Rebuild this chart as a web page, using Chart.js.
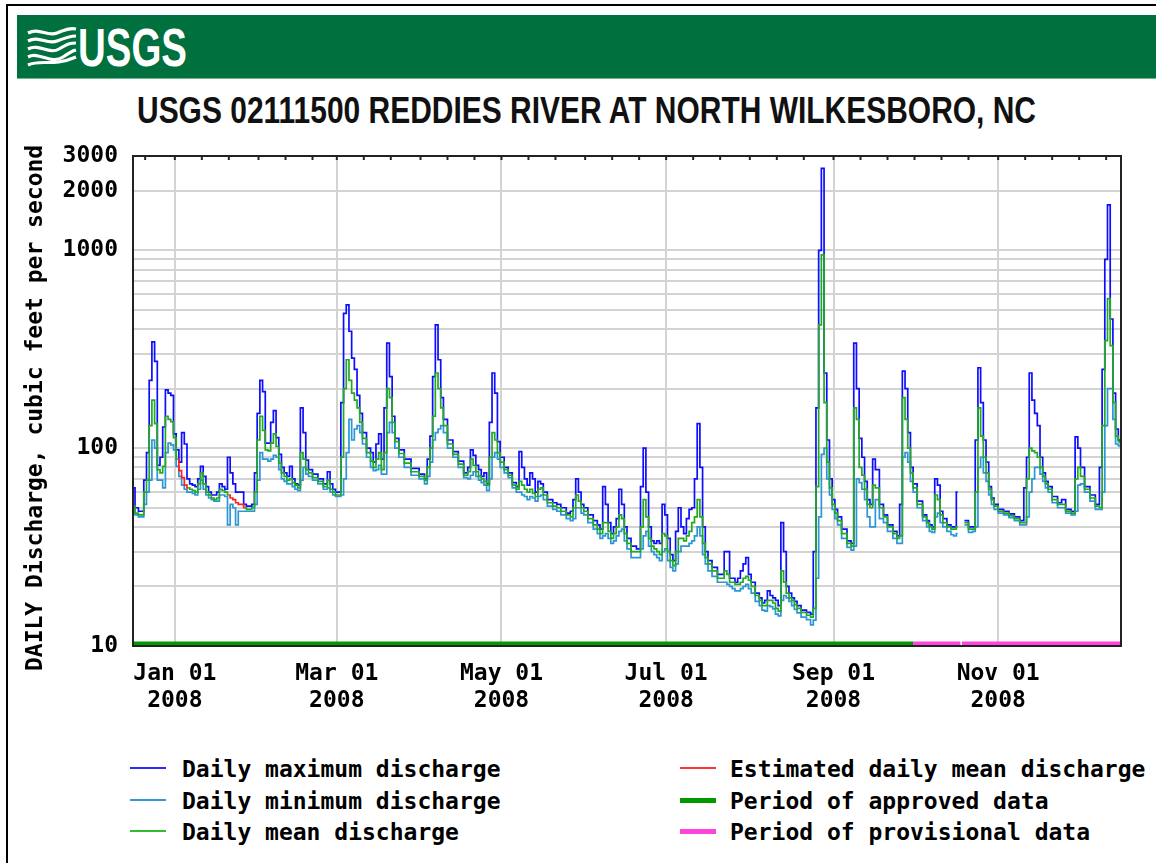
<!DOCTYPE html>
<html>
<head>
<meta charset="utf-8">
<title>USGS 02111500 Reddies River at North Wilkesboro, NC</title>
<script src="https://cdn.jsdelivr.net/npm/chart.js@4.4.1/dist/chart.umd.min.js"></script>
<style>
  html, body { margin: 0; padding: 0; background: #fff; overflow: hidden; }
  body { width: 1156px; height: 863px; position: relative; }
  #page { position: absolute; left: 6px; top: 4px; width: 1300px; height: 1000px;
          border-left: 2px solid #000; border-top: 2px solid #000; }
  #banner { position: absolute; left: 17px; top: 15px; width: 1139px; height: 63px;
            background: #00703f; border-bottom: 1px solid #6fb892; overflow: hidden; }
  #logo-waves { position: absolute; left: 10px; top: 12px; }
  #logo-text { position: absolute; left: 61px; top: 5px; color: #fff; white-space: nowrap;
               font: bold 54px "Liberation Sans Narrow", "Liberation Sans", Arial, sans-serif;
               line-height: 54px; transform-origin: left top; }
  #title { position: absolute; left: 137px; top: 93px; color: #111; white-space: nowrap;
           font: bold 36px "Liberation Sans Narrow", "Liberation Sans", Arial, sans-serif;
           line-height: 36px; transform-origin: left top; }
  #chart-box { position: absolute; left: 0; top: 140px; width: 1156px; height: 600px; }
  .lg-text { position: absolute; white-space: nowrap; line-height: 24px; color: #000;
             font: bold 23px "DejaVu Sans Mono", monospace; }
  .lg-line { position: absolute; }
</style>
</head>
<body>
<div id="page"></div>
<div id="banner">
  <svg id="logo-waves" width="50" height="40" viewBox="0 0 50 40">
    <g fill="none" stroke="#fff" stroke-width="3.2">
      <path d="M1 6 C12 0 20 10 30 6 S44 1 49 2"/>
      <path d="M1 14 C12 8 20 18 30 14 S44 9 49 9"/>
      <path d="M1 22 C12 16 22 28 32 22 S44 16 49 16"/>
      <path d="M1 30 C12 24 24 38 36 30 S46 24 49 23"/>
      <path d="M1 38 C14 32 26 40 49 30"/>
    </g>
  </svg>
  <div id="logo-text">USGS</div>
</div>
<div id="title">USGS 02111500 REDDIES RIVER AT NORTH WILKESBORO, NC</div>
<div id="chart-box"><canvas id="flowChart" width="1156" height="600"></canvas></div>
<div id="legend"></div>

<script>
// day offsets from Jan 1, 2008
const days = [
  -15.5, -14, -13, -12, -11, -10, -9, -8, -7, -6,
  -5, -4, -3, -2, -1, 0, 1, 2, 3, 4,
  5, 6, 7, 8, 9, 10, 11, 12, 13, 14,
  15, 16, 17, 18, 19, 20, 21, 22, 23, 24,
  25, 26, 27, 28, 29, 30, 31, 32, 33, 34,
  35, 36, 37, 38, 39, 40, 41, 42, 43, 44,
  45, 46, 47, 48, 49, 50, 52, 54, 56, 57,
  58, 59, 60, 61, 62, 63, 64, 65, 66, 67,
  68, 69, 70, 72, 73, 74, 75, 76, 77, 78,
  79, 80, 81, 82, 84, 86, 89, 92, 93, 94,
  95, 96, 97, 98, 99, 100, 102, 104, 106, 108,
  109, 110, 111, 112, 113, 114, 115, 116, 117, 118,
  119, 120, 121, 123, 124, 126, 127, 128, 129, 130,
  131, 132, 133, 134, 135, 136, 137, 139, 141, 142,
  144, 146, 147, 148, 149, 150, 151, 152, 154, 156,
  157, 158, 159, 160, 161, 162, 163, 164, 165, 166,
  167, 168, 170, 172, 173, 174, 175, 176, 177, 178,
  179, 180, 181, 182, 183, 184, 185, 186, 187, 188,
  189, 190, 191, 192, 193, 194, 195, 196, 197, 198,
  200, 202, 203, 204, 205, 206, 207, 208, 209, 210,
  211, 212, 213, 214, 216, 217, 218, 219, 220, 221,
  222, 223, 224, 225, 226, 227, 228, 229, 230, 231,
  233, 235, 236, 237, 238, 239, 240, 241, 242, 243,
  244, 245, 246, 248, 250, 251, 252, 253, 254, 255,
  256, 257, 258, 259, 260, 262, 263, 265, 267, 268,
  269, 270, 271, 272, 273, 274, 276, 278, 279, 280,
  281, 282, 283, 284, 285, 287, 288, 289, 290, 291,
  292.5, 293, 295, 296, 297, 298, 299, 300, 301, 302,
  303, 304, 306, 308, 310, 312, 314, 315, 316, 317,
  318, 319, 320, 321, 322, 323, 324, 326, 328, 329,
  331, 333, 334, 335, 336, 338, 340, 342, 343, 344,
  345, 346, 347, 348, 349, 350, 350.5
];

const maxQ = [
  63, 50, 48, 48, 69, 95, 220, 345, 275, 82,
  90, 128, 197, 190, 185, 118, 98, 85, 120, 105,
  70, 66, 65, 64, 70, 81, 72, 64, 60, 58,
  58, 60, 66, 64, 62, 90, 75, 66, 60, 60,
  60, 52, 51, 51, 52, 75, 150, 220, 193, 106,
  106, 135, 155, 113, 93, 80, 75, 72, 81, 70,
  66, 65, 160, 120, 87, 78, 74, 70, 66, 76,
  66, 62, 60, 60, 170, 480, 530, 390, 285, 250,
  185, 150, 120, 100, 95, 85, 105, 118, 88, 160,
  340, 230, 145, 112, 98, 88, 79, 74, 70, 88,
  115, 230, 420, 280, 180, 140, 110, 96, 86, 75,
  80, 98, 92, 82, 78, 72, 75, 66, 135, 240,
  190, 108, 90, 80, 75, 67, 64, 96, 80, 70,
  65, 75, 70, 60, 68, 66, 60, 55, 53, 52,
  50, 47, 48, 55, 70, 60, 52, 50, 46, 43,
  41, 39, 64, 52, 42, 37, 40, 44, 62, 52,
  40, 35, 32, 31, 64, 100, 60, 40, 34, 33,
  34, 33, 52, 46, 35, 29, 27, 38, 50, 40,
  37, 44, 49, 50, 70, 133, 80, 40, 30, 27,
  25, 23, 23, 30, 30, 22, 22, 21, 22, 24,
  26, 28, 23, 21, 18.5, 17.5, 16.5, 17, 19, 18,
  17.5, 17, 16, 42, 30, 20, 18.5, 17.5, 16.8, 16,
  15.2, 14.8, 14.5, 30, 160, 1000, 2600, 240, 110, 70,
  55, 49, 45, 39, 34, 33, 340, 200, 112, 90,
  68, 55, 52, 88, 78, 52, 46, 41, 38, 36,
  52, 245, 200, 120, 80, 66, 54, 46, 43, 41,
  40, 70, 65, 48, 44, 41, 40, 40, 60, null,
  43, 43, 40, 40, 110, 255, 170, 110, 85, 64,
  56, 52, 49, 48, 46.5, 45, 43, 63, 90, 240,
  175, 150, 130, 90, 75, 68, 64, 57, 53, 55,
  49, 48, 114, 100, 80, 64, 58, 52, 80, 250,
  900, 1700, 450, 190, 125, 110, 108
];

const meanQ = [
  51, 47, 46, 46, 60, 69, 130, 175, 133, 78,
  75, 81, 145, 140, 136, 113, 88, null, null, null,
  63, 62, 61, 60, 66, 75, 66, 60, 58, 56,
  55, 56, 62, 61, 60, 58, null, null, null, null,
  null, 50, 49, 49, 50, 60, 110, 145, 123, 98,
  97, 106, 118, 102, 84, 75, 72, 69, 70, 67,
  65, 63, 95, 88, 78, 75, 71, 68, 64, 69,
  62, 60, 58, 58, 90, 200, 280, 220, 190, 175,
  160, 135, 112, 95, 86, 80, 88, 95, 78, 95,
  200, 180, 135, 108, 94, 84, 76, 72, 69, 80,
  100, 145, 240, 200, 160, 130, 105, 93, 83, 73,
  76, 88, 82, 76, 72, 70, 68, 65, 90, 120,
  110, 95, 85, 78, 73, 65, 62, 68, 65, 62,
  60, 62, 59, 57, 62, 63, 58, 53, 51, 50,
  48, 46, 45, 50, 58, 54, 50, 48, 44, 41,
  39, 37, 42, 42, 38, 35, 37, 40, 46, 44,
  37, 33, 30, 30, 40, 55, 45, 35, 32, 31,
  30, 29, 37, 36, 30, 27, 25.5, 30, 35, 35,
  34, 36, 38, 42, 45, 55, 45, 33, 28, 26,
  24, 22, 22, 24, 23, 21, 21, 20.5, 20.5, 21,
  22, 22.5, 21.5, 20, 18, 17, 16, 16, 17, 17,
  16.5, 15.5, 15, 24, 21, 18.5, 17.5, 17, 16.2, 15.5,
  14.8, 14.3, 14, 15.5, 64, 420, 950, 170, 85, 63,
  52, 47, 43, 37, 33, 32, 160, 140, 80, 73,
  62, 52, 50, 65, 63, 50, 45, 40, 37, 35,
  36, 180, 140, 100, 75, 63, 52, 45, 42, 40,
  39, 58, 55, 46, 42, 40, 39, 39, 40, null,
  42, 42, 39, 39, 60, 160, 115, 90, 75, 62,
  55, 51, 48, 47, 45.5, 44, 42, 42, 70, 100,
  97, 95, 90, 80, 72, 66, 62, 55, 52, 52,
  48, 47, 70, 80, 72, 62, 56, 51, 50, 130,
  350, 570, 330, 170, 115, 108, 106
];

const minQ = [
  49, 46, 45, 45, 52, 60, 69, 110, 100, 69,
  69, 63, 95, 106, 104, 98, 81, 72, 65, 62,
  60, 60, 59, 58, 62, 69, 62, 58, 56, 55,
  54, 54, 58, 58, 57, 41, 52, 50, 41, 48,
  48, 48, 48, 48, 48, 52, 69, 95, 88, 88,
  86, 88, 92, 90, 78, 70, 68, 66, 66, 64,
  62, 61, 69, 80, 74, 72, 69, 66, 62, 63,
  60, 58, 57, 57, 58, 70, 95, 140, 110, 125,
  130, 120, 105, 90, 80, 77, 78, 82, 74, 74,
  120, 135, 120, 100, 90, 80, 73, 70, 66, 72,
  85, 110, 120, 125, 130, 120, 100, 90, 80, 71,
  70, 73, 76, 72, 69, 67, 65, 61, 70, 90,
  95, 88, 80, 75, 71, 63, 60, 60, 58, 57,
  55, 57, 56, 54, 57, 58, 55, 51, 49, 48,
  46, 44, 43, 44, 50, 50, 47, 46, 42, 39,
  37, 35, 36, 37, 35, 33, 34, 36, 38, 39,
  34, 31, 28, 28, 31, 36, 38, 32, 30, 29,
  28, 27, 30, 31, 27, 25, 24, 26, 30, 32,
  32, 32, 33, 34, 36, 40, 36, 29, 26, 24,
  22.5, 21, 21, 21, 20.5, 20, 19.5, 19, 19, 19.5,
  20, 20.5, 19.5, 18.5, 16.8, 16, 15.2, 15, 16, 15.8,
  15.4, 14.5, 14.2, 17, 18, 17.5, 16.8, 16, 15.3, 14.7,
  14, 13.6, 12.8, 13.5, 22, 45, 93, 100, 70, 58,
  49, 44, 41, 35, 31.5, 30.5, 32, 70, 67, 62,
  55, 45, 40, 40, 55, 44, 42, 38, 35, 33,
  33, 90, 95, 85, 68, 60, 50, 43, 40, 38,
  37.5, 45, 47, 42, 40, 38, 36.5, 36, 37, null,
  41, 41, 37.5, 38, 40, 80, 90, 75, 68, 58,
  52, 49, 47, 46, 44.5, 43, 41, 41, 45, 60,
  70, 80, 80, 74, 68, 63, 60, 53, 50, 50,
  47, 46, 48, 65, 66, 60, 54, 49, 49, 60,
  130, 200, 200, 140, 105, 103, 102
];

// estimated daily mean (two short runs, null breaks the line between them)
const estDays = [1, 2, 3, 4, 5, 12, 20, 21, 22, 23, 24, 25, 26];
const estMeanQ = [88, 77, 71, 65, 63, null, 58, 56, 55, 53, 52, 52, 50];

// data-approval periods [start day, end day]
const approvedPeriods = [[-15.5, 273.5]];
const provisionalPeriods = [[273.5, 291], [291.6, 350.5]];

const xMin = -15.5, xMax = 350.5;
const monthLabels = ['Jan 01', 'Mar 01', 'May 01', 'Jul 01', 'Sep 01', 'Nov 01'];
const monthIdx = [0, 2, 4, 6, 8, 10];
const yGrid = [10, 20, 30, 40, 50, 60, 70, 80, 90, 100, 200, 300, 400, 500, 600, 700, 800, 900, 1000, 2000, 3000];
const yLabels = [10, 100, 1000, 2000, 3000];

const base = new Date(2008, 0, 1);
const dayOf = (y, m, d) => Math.round((new Date(y, m, d) - base) / 864e5);
const labelDays = monthIdx.map(m => dayOf(2008, m, 1));
const minorDays = [];
for (let m = -1; m < 12; m++) {
  [1, 11, 21].forEach(d => {
    const v = dayOf(2008, m, d);
    if (v > xMin && v < xMax) minorDays.push(v);
  });
}

const pts = ys => days.map((d, i) => ({ x: d, y: ys[i] }));
const periodPts = periods => {
  const out = [];
  periods.forEach(([a, b], i) => {
    if (i > 0) out.push({ x: (out[out.length - 1].x + a) / 2, y: null });
    out.push({ x: a, y: 10 }, { x: b, y: 10 });
  });
  return out;
};

const chartFont = { family: 'DejaVu Sans Mono', size: 23, weight: 'bold' };
const gridColor = '#d3d3d3';

const framePlugin = {
  id: 'frame',
  afterDatasetsDraw(chart) {
    const { ctx, chartArea: a, scales } = chart;
    ctx.save();
    ctx.strokeStyle = '#222';
    ctx.lineWidth = 2;
    ctx.strokeRect(a.left, a.top, a.right - a.left, a.bottom - a.top);
    scales.xTop.ticks.forEach(t => {
      const x = scales.xTop.getPixelForValue(t.value);
      ctx.beginPath();
      ctx.moveTo(x, a.top);
      ctx.lineTo(x, a.top + 4);
      ctx.stroke();
    });
    ctx.restore();
  }
};

const lineBase = { pointRadius: 0, borderWidth: 1.7, fill: false, spanGaps: false, stepped: 'middle' };

const ctx = document.getElementById('flowChart').getContext('2d');
const flowChart = new Chart(ctx, {
  type: 'line',
  data: {
    datasets: [
      { label: 'Period of approved data', data: periodPts(approvedPeriods), borderColor: '#009a00',
        borderWidth: 9, pointRadius: 0, order: 0 },
      { label: 'Period of provisional data', data: periodPts(provisionalPeriods), borderColor: '#ff44dd',
        borderWidth: 9, pointRadius: 0, spanGaps: false, order: 0 },
      { ...lineBase, label: 'Daily mean discharge', data: pts(meanQ), borderColor: '#22aa22', order: 1 },
      { ...lineBase, label: 'Estimated daily mean discharge',
        data: estDays.map((d, i) => ({ x: d, y: estMeanQ[i] })), borderColor: '#ff2020', order: 1 },
      { ...lineBase, label: 'Daily minimum discharge', data: pts(minQ), borderColor: '#2a96d6', order: 2 },
      { ...lineBase, label: 'Daily maximum discharge', data: pts(maxQ), borderColor: '#0d0dff', order: 3 }
    ]
  },
  options: {
    responsive: false,
    animation: false,
    devicePixelRatio: 1,
    events: [],
    layout: { padding: { left: 0, right: 35, top: 0, bottom: 0 } },
    plugins: { legend: { display: false }, tooltip: { enabled: false } },
    scales: {
      x: {
        type: 'linear', position: 'bottom', min: xMin, max: xMax,
        afterBuildTicks: s => { s.ticks = labelDays.map(v => ({ value: v })); },
        afterFit: s => { s.height = 94; },
        grid: { color: gridColor, lineWidth: 2, drawTicks: false },
        border: { display: false },
        ticks: {
          autoSkip: false, maxRotation: 0, padding: 14, color: '#000', font: chartFont,
          callback: v => [monthLabels[labelDays.indexOf(v)], '2008']
        }
      },
      xTop: {
        type: 'linear', position: 'top', min: xMin, max: xMax,
        afterBuildTicks: s => { s.ticks = minorDays.map(v => ({ value: v })); },
        afterFit: s => { s.height = 16; },
        grid: { display: false },
        border: { display: false },
        ticks: { display: false }
      },
      y: {
        type: 'logarithmic', min: 10, max: 3000,
        afterBuildTicks: s => { s.ticks = yGrid.map(v => ({ value: v })); },
        afterFit: s => { s.width = 133; },
        // invisible tick marks give the label gap without padding the plot top
        grid: { color: gridColor, lineWidth: 2, drawTicks: true, tickLength: 15, tickColor: 'rgba(0,0,0,0)' },
        border: { display: false },
        ticks: {
          autoSkip: false, padding: 0, color: '#000', font: chartFont,
          callback: v => yLabels.includes(v) ? String(v) : ''
        },
        title: {
          display: true, text: 'DAILY Discharge, cubic feet per second ', color: '#000',
          font: chartFont, padding: { top: 22, bottom: 0 }
        }
      }
    }
  },
  plugins: [framePlugin]
});

// legend below the chart, two columns like the USGS graph
const legendItems = [
  { text: 'Daily maximum discharge', color: '#2a2aff', thick: false, col: 0, row: 0 },
  { text: 'Daily minimum discharge', color: '#3399dd', thick: false, col: 0, row: 1 },
  { text: 'Daily mean discharge', color: '#33bb33', thick: false, col: 0, row: 2 },
  { text: 'Estimated daily mean discharge', color: '#ff3333', thick: false, col: 1, row: 0 },
  { text: 'Period of approved data', color: '#009900', thick: true, col: 1, row: 1 },
  { text: 'Period of provisional data', color: '#ff44dd', thick: true, col: 1, row: 2 }
];
const legendEl = document.getElementById('legend');
const rowY = [768, 800, 831];
const colLine = [130, 680];
const colText = [182, 730];
legendItems.forEach(it => {
  const h = it.thick ? 5 : 2;
  const line = document.createElement('div');
  line.className = 'lg-line';
  line.style.cssText = `left:${colLine[it.col]}px;top:${rowY[it.row] - h / 2}px;width:36px;height:${h}px;background:${it.color}`;
  legendEl.appendChild(line);
  const t = document.createElement('div');
  t.className = 'lg-text';
  t.style.left = colText[it.col] + 'px';
  t.style.top = (rowY[it.row] - 12) + 'px';
  t.textContent = it.text;
  legendEl.appendChild(t);
});

function fitWidth(id, target) {
  const el = document.getElementById(id);
  const w = el.getBoundingClientRect().width;
  el.style.transform = 'scaleX(' + (target / w) + ')';
}
fitWidth('title', 899);
fitWidth('logo-text', 109);
</script>
</body>
</html>
